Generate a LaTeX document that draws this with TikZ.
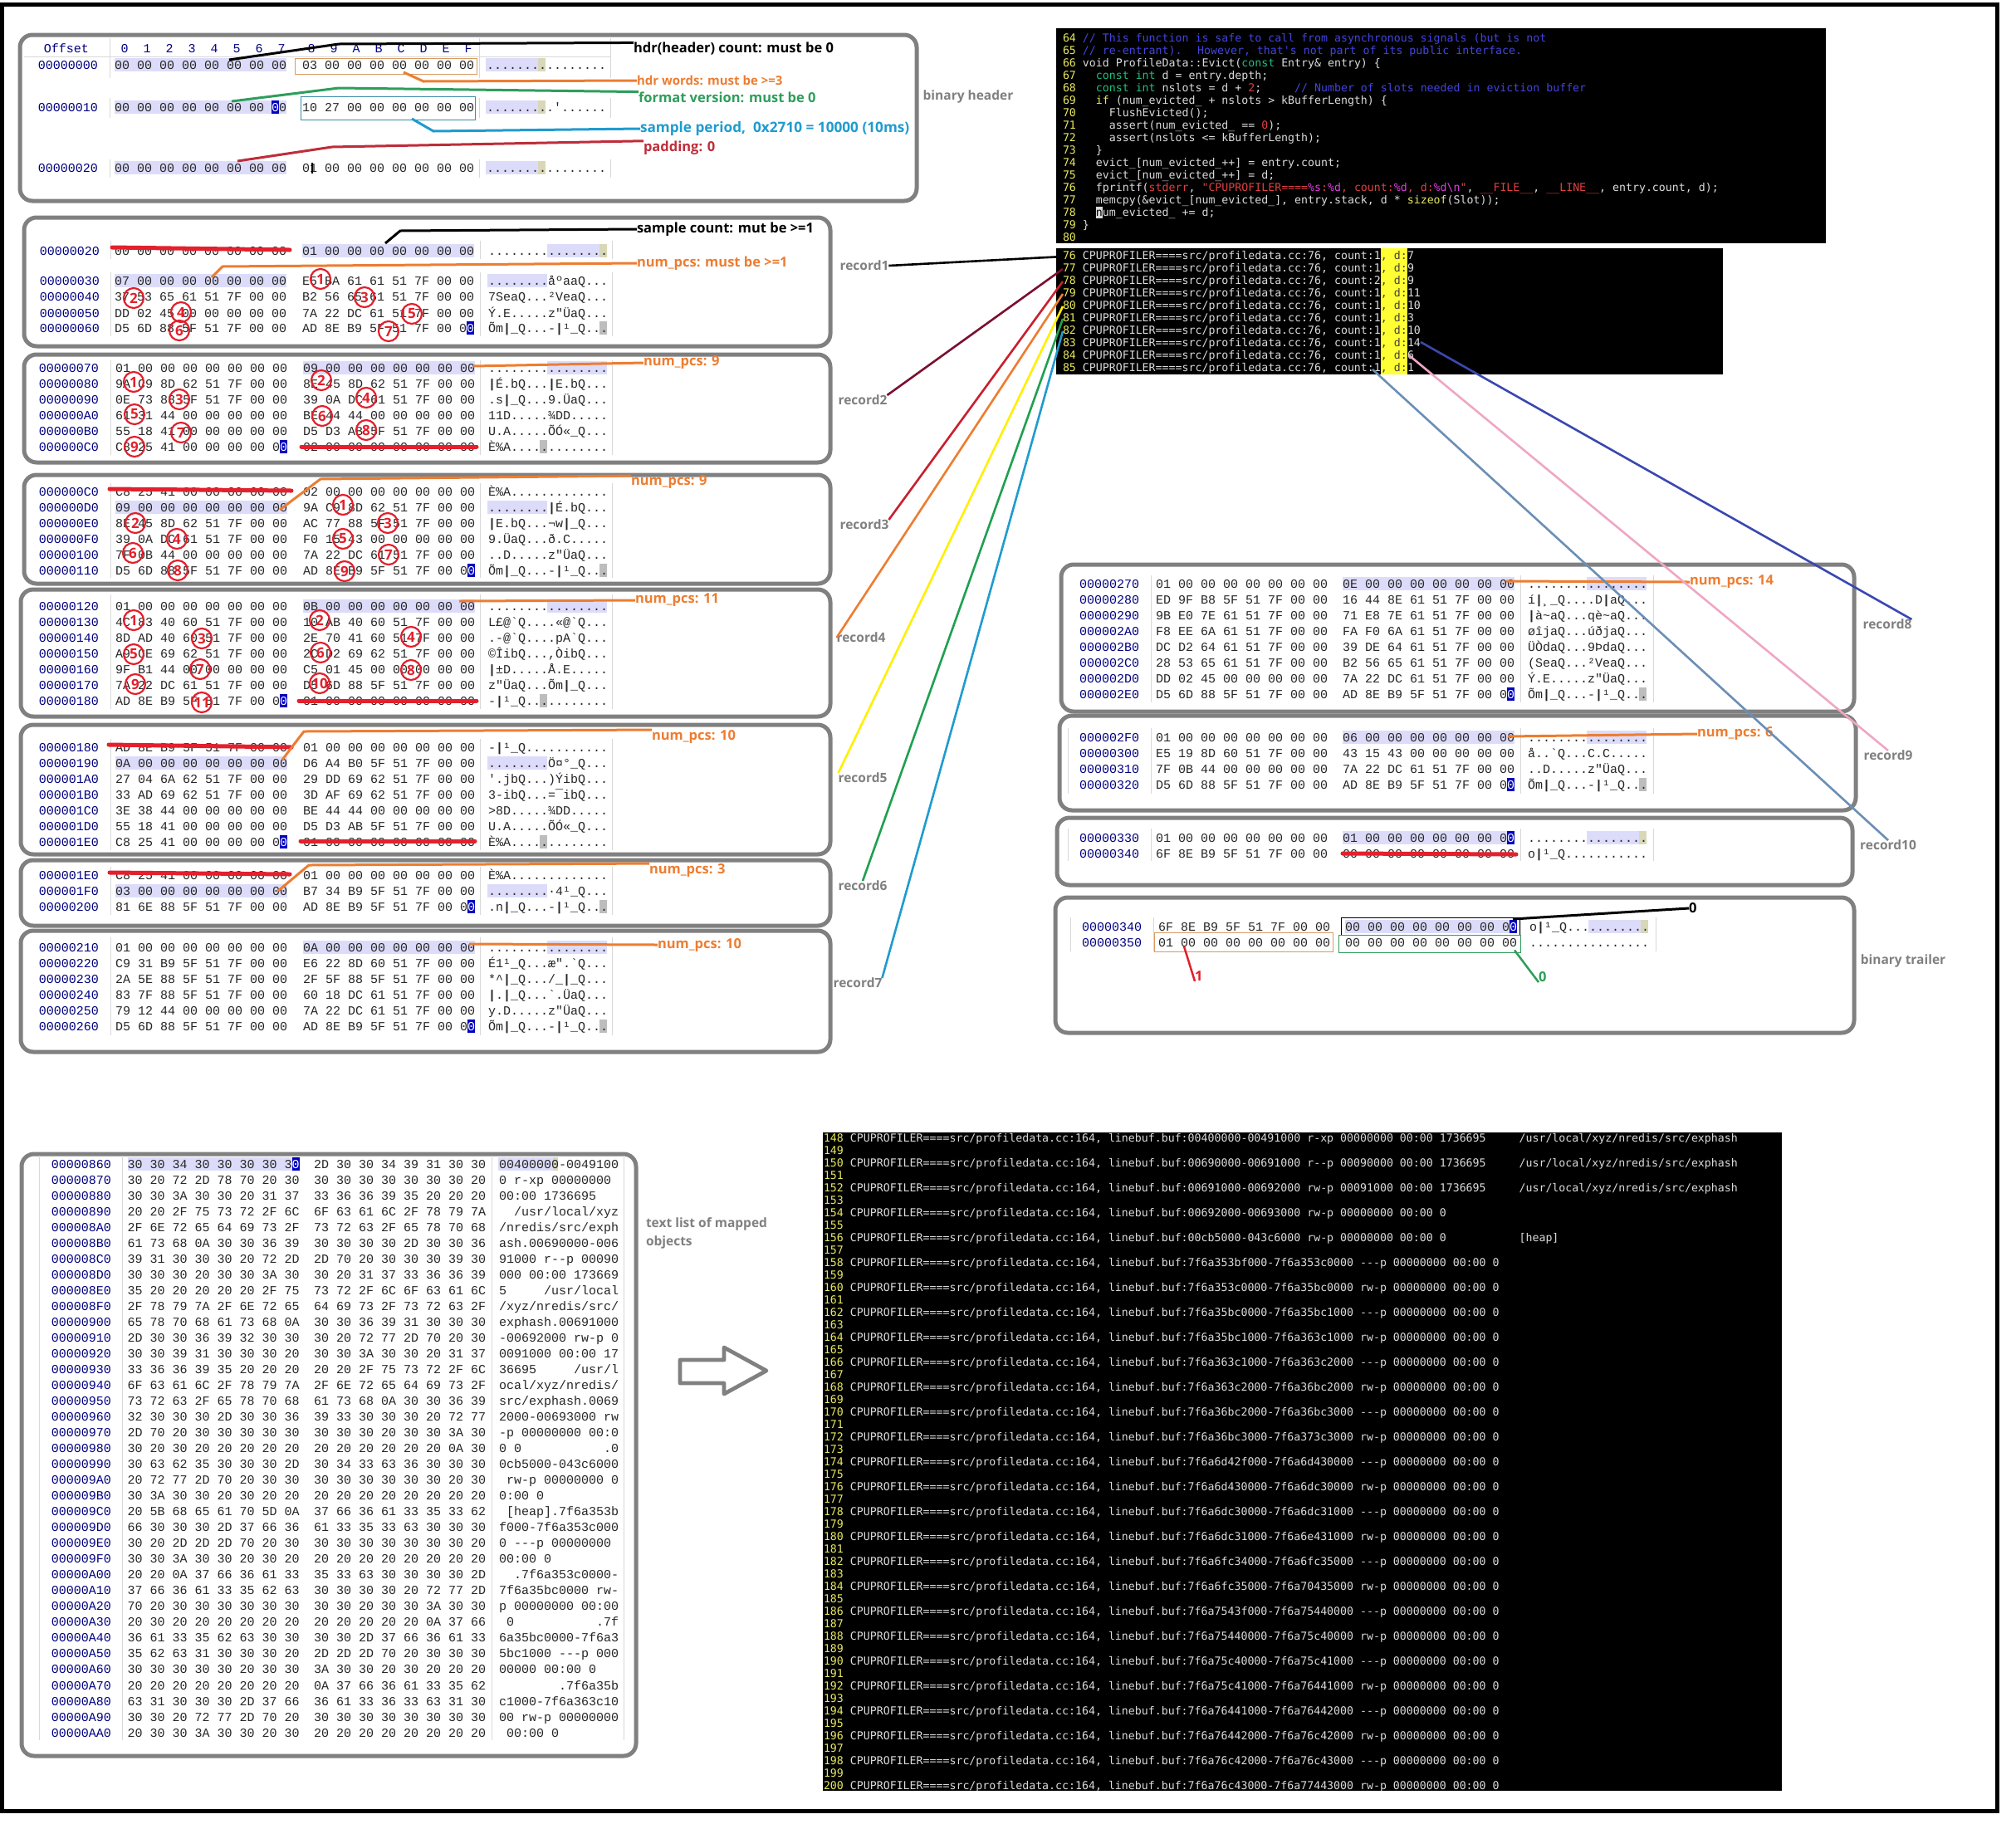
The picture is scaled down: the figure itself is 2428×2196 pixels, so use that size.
\documentclass[tikz,border=0pt]{standalone}
\usepackage{fontspec}
\newfontfamily\hexf{Liberation Mono}
\newfontfamily\codef{DejaVu Sans Mono}
\newfontfamily\labf{Open Sans}
\definecolor{pgray}{HTML}{808080}
\definecolor{lav}{HTML}{DCDCFA}
\definecolor{tanb}{HTML}{D8D8B8}
\definecolor{grayb}{HTML}{BDBDBD}
\definecolor{navyo}{HTML}{000080}
\definecolor{cursb}{HTML}{0000C0}
\definecolor{seplin}{HTML}{D8D8D8}
\definecolor{orng}{HTML}{ED7D31}
\definecolor{boxo}{HTML}{D89A60}
\definecolor{boxb}{HTML}{3A8CA8}
\definecolor{grn}{HTML}{2E9E5B}
\definecolor{skyb}{HTML}{1F9BCF}
\definecolor{redd}{HTML}{BE2D3A}
\definecolor{strike}{HTML}{E3202C}
\definecolor{cmt}{HTML}{4444DD}
\definecolor{typ}{HTML}{20C080}
\definecolor{strc}{HTML}{E04040}
\definecolor{fmtc}{HTML}{E040E0}
\definecolor{yel}{HTML}{E8E860}
\definecolor{wht}{HTML}{DCDCDC}
\definecolor{bar}{HTML}{FFFF33}
\definecolor{lr2}{HTML}{7A1030}
\definecolor{lr3}{HTML}{C8202F}
\definecolor{lr5}{HTML}{FFF000}
\definecolor{lr6}{HTML}{1FA050}
\definecolor{lr8}{HTML}{3A48B0}
\definecolor{lr9}{HTML}{EFA7C4}
\definecolor{lr10}{HTML}{6B8FB5}
\tikzset{
  x=1pt,y=-1pt,
  panelbox/.style={draw=pgray,line width=5pt,rounded corners=15pt,inner sep=0pt,outer sep=0pt},
  hexo/.style={anchor=base,inner sep=0pt,outer sep=0pt,text=navyo,font=\hexf\fontsize{15}{15}\selectfont},
  hexc/.style={anchor=base west,inner sep=0pt,outer sep=0pt,text=black!85,font=\hexf\fontsize{15}{15}\selectfont},
  curc/.style={anchor=base west,inner sep=0pt,outer sep=0pt,text=white,font=\hexf\fontsize{15}{15}\selectfont},
  codeln/.style={anchor=base west,inner sep=0pt,outer sep=0pt,text=wht,font=\codef\fontsize{13.25}{15}\selectfont},
  lbl/.style={anchor=west,inner sep=0pt,outer sep=0pt,font=\labf\bfseries\fontsize{16.5}{22}\selectfont},
  graylbl/.style={anchor=center,inner sep=0pt,outer sep=0pt,text=pgray,font=\labf\bfseries\fontsize{15.5}{22}\selectfont},
  ann/.style={line width=3pt,draw=#1},
  recline/.style={line width=2.6pt,draw=#1},
  strk/.style={line width=5pt,draw=strike,line cap=round},
  circnum/.style={circle,draw=strike,line width=2.2pt,minimum size=24pt,inner sep=0pt,text=strike,font=\labf\bfseries\fontsize{17}{17}\selectfont},
  sepl/.style={draw=seplin,line width=1pt},
}
\newcount\rc
\def\nextrc{\global\advance\rc by 1 }
\newcommand\setcols[4]{\def\xO{#1}\def\xA{#2}\def\xB{#3}\def\xC{#4}}
\newcommand\hr[5]{\nextrc
  \node[hexo] (r\the\rc o) at (\xO,{#1+5}) {#2};
  \node[hexc] (r\the\rc a) at (\xA,{#1+5}) {#3};
  \node[hexc] (r\the\rc b) at (\xB,{#1+5}) {#4};
  \node[hexc] (r\the\rc c) at (\xC,{#1+5}) {#5};}
\newcommand\hla[1]{\fill[lav] (\xA,{#1-8}) rectangle ({\xA+207},{#1+8});}
\newcommand\hlb[1]{\fill[lav] (\xB,{#1-8}) rectangle ({\xB+207},{#1+8});}
\newcommand\asca[1]{\fill[lav] ({\xC-1},{#1-8}) rectangle ({\xC+71},{#1+8});}
\newcommand\ascb[1]{\fill[lav] ({\xC+71},{#1-8}) rectangle ({\xC+143},{#1+8});}
\newcommand\marka[2]{\fill[#2] ({\xC+62},{#1-8}) rectangle ({\xC+71},{#1+8});}
\newcommand\markb[2]{\fill[#2] ({\xC+134},{#1-8}) rectangle ({\xC+143},{#1+8});}
\newcommand\cura[1]{\nextrc\fill[cursb] ({\xA+198},{#1-8}) rectangle ({\xA+207},{#1+8});
  \node[curc] (k\the\rc) at ({\xA+198},{#1+5}) {0};}
\newcommand\curb[1]{\nextrc\fill[cursb] ({\xB+198},{#1-8}) rectangle ({\xB+207},{#1+8});
  \node[curc] (k\the\rc) at ({\xB+198},{#1+5}) {0};}
\newcommand\panel[5]{\node[panelbox,minimum width={(#4-#2)*1pt},minimum height={(#5-#3)*1pt}] (#1) at ({(#2+#4)/2},{(#3+#5)/2}) {};}
\newcommand\cnum[3]{\nextrc\node[circnum] (n\the\rc) at (#1,#2) {#3};}
\newcommand\seps[5]{\draw[sepl] (#1,#4) -- (#1,#5) (#2,#4) -- (#2,#5) (#3,#4) -- (#3,#5);}
\def\bb{\textbf{|}}
\newcommand\cl[2]{\node[codeln] (c#1) at (1280,{45.7+15*(#1-64)+5}) {\textcolor{yel}{#1} #2};}
\newcommand\pl[2]{\node[codeln] (p#1) at (1280,{307.7+15*(#1-76)+5}) {\textcolor{yel}{#1} CPUPROFILER====src/profiledata.cc:76, count:#2\textcolor{black!75}{, d:}};}
\def\pf{CPUPROFILER====src/profiledata.cc:164, linebuf.buf:}
\newcommand\ml[2]{\node[codeln] (m#1) at (992,{1370.7+15*(#1-148)+5}) {\textcolor{yel}{#1} \pf #2};}
\begin{document}
\begin{tikzpicture}
\useasboundingbox (0,0) rectangle (2428,2196);
\fill[white] (0,0) rectangle (2428,2196);
\draw[line width=5pt,black] (2,5.5) rectangle (2405.5,2181.5);
% ---------- panels
\panel{hdrp}{24}{42}{1104}{242}
\panel{rp1}{29}{262}{1000}{417}
\panel{rp2}{29}{427}{1000}{557}
\panel{rp3}{29}{572}{1000}{703}
\panel{rp4}{25}{710}{1000}{863}
\panel{rp5}{25}{873}{1000}{1029}
\panel{rp6}{25}{1036}{1000}{1115}
\panel{rp7}{25}{1121}{1000}{1267}
\panel{rp8}{1278}{680}{2233}{857}
\panel{rp9}{1276}{862}{2235}{976}
\panel{rp10}{1273}{985}{2231}{1066}
\panel{trp}{1271}{1081}{2233}{1244}
\panel{mapp}{26}{1390}{766}{2115}
% ---------- binary header
\setcols{82}{138}{364}{586}
\seps{132}{577}{735}{46}{94}\seps{132}{577}{735}{118}{142}\seps{132}{577}{735}{192}{214}
\draw[sepl] (29,68) -- (735,68);
\node[hexo] (offh) at (80,63) {Offset};
\foreach \d [count=\i from 0] in {0,1,2,3,4,5,6,7}{\node[hexo] (hd\i) at ({150+27*\i},63) {\d};}
\foreach \d [count=\i from 0] in {8,9,A,B,C,D,E,F}{\node[hexo] (he\i) at ({375+27*\i},63) {\d};}
\hla{78}\asca{78}\marka{78}{tanb}
\hla{129}\asca{129}\marka{129}{tanb}
\hla{202}\asca{202}\marka{202}{tanb}
\hr{78}{00000000}{00 00 00 00 00 00 00 00}{03 00 00 00 00 00 00 00}{................}
\hr{129}{00000010}{00 00 00 00 00 00 00 00}{10 27 00 00 00 00 00 00}{.........'......}
\hr{202}{00000020}{00 00 00 00 00 00 00 00}{01 00 00 00 00 00 00 00}{................}
\fill[cursb] ({\xA+189},121) rectangle ({\xA+198},137);
\node[curc] (k0) at ({\xA+189},134) {0};
\fill[black] (375,196) rectangle (377,209);
\draw[boxo,line width=1pt] (355,70) rectangle (574,89);
\draw[boxb,line width=1pt] (362,116) rectangle (572,144);
% ---------- record 1
\setcols{84}{138}{364}{588}
\seps{133}{578}{737}{290}{312}\seps{133}{578}{737}{328}{405}
\hlb{302}\ascb{302}\markb{302}{tanb}
\hla{338}\asca{338}\markb{395}{grayb}
\hr{302}{00000020}{00 00 00 00 00 00 00 00}{01 00 00 00 00 00 00 00}{................}
\hr{338}{00000030}{07 00 00 00 00 00 00 00}{E5 BA 61 61 51 7F 00 00}{........åºaaQ...}
\hr{357}{00000040}{37 53 65 61 51 7F 00 00}{B2 56 65 61 51 7F 00 00}{7SeaQ...²VeaQ...}
\hr{377}{00000050}{DD 02 45 00 00 00 00 00}{7A 22 DC 61 51 7F 00 00}{Ý.E.....z"ÜaQ...}
\hr{395}{00000060}{D5 6D 88 5F 51 7F 00 00}{AD 8E B9 5F 51 7F 00 00}{Õm\bb\_Q...-\bb¹\_Q...}
\curb{395}
\draw[strk] (135,298) -- (349,301);
% ---------- record 2
\setcols{83}{139}{365}{588}
\seps{133}{578}{737}{434}{548}
\hlb{443}\ascb{443}\marka{538}{grayb}
\hr{443}{00000070}{01 00 00 00 00 00 00 00}{09 00 00 00 00 00 00 00}{................}
\hr{462}{00000080}{9A C9 8D 62 51 7F 00 00}{8E 45 8D 62 51 7F 00 00}{\bb É.bQ...\bb E.bQ...}
\hr{481}{00000090}{0E 73 88 5F 51 7F 00 00}{39 0A DC 61 51 7F 00 00}{.s\bb\_Q...9.ÜaQ...}
\hr{500}{000000A0}{61 31 44 00 00 00 00 00}{BE 44 44 00 00 00 00 00}{11D.....¾DD.....}
\hr{519}{000000B0}{55 18 41 00 00 00 00 00}{D5 D3 AB 5F 51 7F 00 00}{U.A.....ÕÓ«\_Q...}
\hr{538}{000000C0}{C8 25 41 00 00 00 00 00}{02 00 00 00 00 00 00 00}{È\%A.............}
\cura{538}
\draw[strk] (363,538) -- (574,538);
% ---------- record 3
\seps{133}{578}{737}{582}{696}
\hla{611}\asca{611}\markb{687}{grayb}
\hr{592}{000000C0}{C8 25 41 00 00 00 00 00}{02 00 00 00 00 00 00 00}{È\%A.............}
\hr{611}{000000D0}{09 00 00 00 00 00 00 00}{9A C9 8D 62 51 7F 00 00}{........\bb É.bQ...}
\hr{630}{000000E0}{8E 45 8D 62 51 7F 00 00}{AC 77 88 5F 51 7F 00 00}{\bb E.bQ...¬w\bb\_Q...}
\hr{649}{000000F0}{39 0A DC 61 51 7F 00 00}{F0 15 43 00 00 00 00 00}{9.ÜaQ...ð.C.....}
\hr{668}{00000100}{7F 0B 44 00 00 00 00 00}{7A 22 DC 61 51 7F 00 00}{..D.....z"ÜaQ...}
\hr{687}{00000110}{D5 6D 88 5F 51 7F 00 00}{AD 8E B9 5F 51 7F 00 00}{Õm\bb\_Q...-\bb¹\_Q...}
\curb{687}
\draw[strk] (132,589) -- (351,591);
% ---------- record 4
\seps{133}{578}{737}{716}{854}
\hlb{730}\ascb{730}\marka{844}{grayb}
\hr{730}{00000120}{01 00 00 00 00 00 00 00}{0B 00 00 00 00 00 00 00}{................}
\hr{749}{00000130}{4C 83 40 60 51 7F 00 00}{10 AB 40 60 51 7F 00 00}{L£@`Q....«@`Q...}
\hr{768}{00000140}{8D AD 40 60 51 7F 00 00}{2E 70 41 60 51 7F 00 00}{.-@`Q....pA`Q...}
\hr{787}{00000150}{A9 CE 69 62 51 7F 00 00}{2C D2 69 62 51 7F 00 00}{©ÎibQ...,ÒibQ...}
\hr{806}{00000160}{9F B1 44 00 00 00 00 00}{C5 01 45 00 00 00 00 00}{\bb ±D.....Å.E.....}
\hr{825}{00000170}{7A 22 DC 61 51 7F 00 00}{D5 6D 88 5F 51 7F 00 00}{z"ÜaQ...Õm\bb\_Q...}
\hr{844}{00000180}{AD 8E B9 5F 51 7F 00 00}{01 00 00 00 00 00 00 00}{-\bb¹\_Q...........}
\cura{844}
\draw[strk] (360,844) -- (574,844);
% ---------- record 5
\seps{133}{578}{737}{890}{1024}
\hla{919}\asca{919}\marka{1014}{grayb}
\hr{900}{00000180}{AD 8E B9 5F 51 7F 00 00}{01 00 00 00 00 00 00 00}{-\bb¹\_Q...........}
\hr{919}{00000190}{0A 00 00 00 00 00 00 00}{D6 A4 B0 5F 51 7F 00 00}{........Ö¤°\_Q...}
\hr{938}{000001A0}{27 04 6A 62 51 7F 00 00}{29 DD 69 62 51 7F 00 00}{'.jbQ...)ÝibQ...}
\hr{957}{000001B0}{33 AD 69 62 51 7F 00 00}{3D AF 69 62 51 7F 00 00}{3-ibQ...=¯ibQ...}
\hr{976}{000001C0}{3E 38 44 00 00 00 00 00}{BE 44 44 00 00 00 00 00}{>8D.....¾DD.....}
\hr{995}{000001D0}{55 18 41 00 00 00 00 00}{D5 D3 AB 5F 51 7F 00 00}{U.A.....ÕÓ«\_Q...}
\hr{1014}{000001E0}{C8 25 41 00 00 00 00 00}{01 00 00 00 00 00 00 00}{È\%A.............}
\cura{1014}
\draw[strk] (131,897) -- (351,900);
\draw[strk] (362,1013) -- (572,1013);
% ---------- record 6
\seps{133}{578}{737}{1044}{1102}
\hla{1073}\asca{1073}\markb{1092}{grayb}
\hr{1054}{000001E0}{C8 25 41 00 00 00 00 00}{01 00 00 00 00 00 00 00}{È\%A.............}
\hr{1073}{000001F0}{03 00 00 00 00 00 00 00}{B7 34 B9 5F 51 7F 00 00}{........·4¹\_Q...}
\hr{1092}{00000200}{81 6E 88 5F 51 7F 00 00}{AD 8E B9 5F 51 7F 00 00}{.n\bb\_Q...-\bb¹\_Q...}
\curb{1092}
\draw[strk] (132,1051) -- (349,1053);
% ---------- record 7
\seps{133}{578}{737}{1129}{1247}
\hlb{1141}\ascb{1141}\markb{1236}{grayb}
\hr{1141}{00000210}{01 00 00 00 00 00 00 00}{0A 00 00 00 00 00 00 00}{................}
\hr{1160}{00000220}{C9 31 B9 5F 51 7F 00 00}{E6 22 8D 60 51 7F 00 00}{É1¹\_Q...æ".`Q...}
\hr{1179}{00000230}{2A 5E 88 5F 51 7F 00 00}{2F 5F 88 5F 51 7F 00 00}{*\textasciicircum\bb\_Q.../\_\bb\_Q...}
\hr{1198}{00000240}{83 7F 88 5F 51 7F 00 00}{60 18 DC 61 51 7F 00 00}{\bb.\bb\_Q...`.ÜaQ...}
\hr{1217}{00000250}{79 12 44 00 00 00 00 00}{7A 22 DC 61 51 7F 00 00}{y.D.....z"ÜaQ...}
\hr{1236}{00000260}{D5 6D 88 5F 51 7F 00 00}{AD 8E B9 5F 51 7F 00 00}{Õm\bb\_Q...-\bb¹\_Q...}
\curb{1236}
% ---------- record 8
\setcols{1336}{1392}{1617}{1840}
\seps{1386}{1831}{1991}{693}{846}
\hlb{703}\ascb{703}\markb{836}{grayb}
\hr{703}{00000270}{01 00 00 00 00 00 00 00}{0E 00 00 00 00 00 00 00}{................}
\hr{722}{00000280}{ED 9F B8 5F 51 7F 00 00}{16 44 8E 61 51 7F 00 00}{í\bb¸\_Q....D\bb aQ...}
\hr{741}{00000290}{9B E0 7E 61 51 7F 00 00}{71 E8 7E 61 51 7F 00 00}{\bb à\textasciitilde aQ...qè\textasciitilde aQ...}
\hr{760}{000002A0}{F8 EE 6A 61 51 7F 00 00}{FA F0 6A 61 51 7F 00 00}{øîjaQ...úðjaQ...}
\hr{779}{000002B0}{DC D2 64 61 51 7F 00 00}{39 DE 64 61 51 7F 00 00}{ÜÒdaQ...9ÞdaQ...}
\hr{798}{000002C0}{28 53 65 61 51 7F 00 00}{B2 56 65 61 51 7F 00 00}{(SeaQ...²VeaQ...}
\hr{817}{000002D0}{DD 02 45 00 00 00 00 00}{7A 22 DC 61 51 7F 00 00}{Ý.E.....z"ÜaQ...}
\hr{836}{000002E0}{D5 6D 88 5F 51 7F 00 00}{AD 8E B9 5F 51 7F 00 00}{Õm\bb\_Q...-\bb¹\_Q...}
\curb{836}
% ---------- record 9
\seps{1386}{1831}{1991}{877}{956}
\draw[sepl] (1286,877) -- (1286,956);
\hlb{888}\ascb{888}\markb{945}{grayb}
\hr{888}{000002F0}{01 00 00 00 00 00 00 00}{06 00 00 00 00 00 00 00}{................}
\hr{907}{00000300}{E5 19 8D 60 51 7F 00 00}{43 15 43 00 00 00 00 00}{å..`Q...C.C.....}
\hr{926}{00000310}{7F 0B 44 00 00 00 00 00}{7A 22 DC 61 51 7F 00 00}{..D.....z"ÜaQ...}
\hr{945}{00000320}{D5 6D 88 5F 51 7F 00 00}{AD 8E B9 5F 51 7F 00 00}{Õm\bb\_Q...-\bb¹\_Q...}
\curb{945}
% ---------- record 10
\seps{1386}{1831}{1991}{998}{1037}
\draw[sepl] (1286,998) -- (1286,1037);
\hlb{1009}\ascb{1009}\markb{1009}{tanb}
\hr{1009}{00000330}{01 00 00 00 00 00 00 00}{01 00 00 00 00 00 00 00}{................}
\hr{1028}{00000340}{6F 8E B9 5F 51 7F 00 00}{00 00 00 00 00 00 00 00}{o\bb¹\_Q...........}
\curb{1009}
\draw[strk] (1617,1028) -- (1826,1029);
% ---------- trailer
\setcols{1339}{1395}{1620}{1842}
\seps{1389}{1831}{1994}{1105}{1146}
\draw[sepl] (1289,1105) -- (1289,1146);
\hlb{1116}\ascb{1116}\markb{1116}{tanb}
\hr{1116}{00000340}{6F 8E B9 5F 51 7F 00 00}{00 00 00 00 00 00 00 00}{o\bb¹\_Q...........}
\hr{1135}{00000350}{01 00 00 00 00 00 00 00}{00 00 00 00 00 00 00 00}{................}
\curb{1116}
\draw[black,line width=1pt] (1615,1105) rectangle (1830,1126);
\draw[boxo,line width=1pt] (1390,1123.5) rectangle (1605,1146);
\draw[grn,line width=1pt] (1612,1126) rectangle (1831,1147);
% ---------- mapped objects
\setcols{98}{153.5}{378}{601}
\seps{147.5}{592}{751}{1392}{2096}
\draw[sepl] (47,1392) -- (47,2096);
\hla{1402}
\fill[lav] (600,1394) rectangle (666,1410);
\fill[tanb] (666,1394) rectangle (672,1410);
\foreach \yy/\oo/\aa/\bbb/\cc [count=\k from 0] in {
0/00000860/30 30 34 30 30 30 30 30/2D 30 30 34 39 31 30 30/{00400000-0049100},
1/00000870/30 20 72 2D 78 70 20 30/30 30 30 30 30 30 30 20/{0 r-xp 00000000 },
2/00000880/30 30 3A 30 30 20 31 37/33 36 36 39 35 20 20 20/{00:00 1736695   },
3/00000890/20 20 2F 75 73 72 2F 6C/6F 63 61 6C 2F 78 79 7A/{~~/usr/local/xyz},
4/000008A0/2F 6E 72 65 64 69 73 2F/73 72 63 2F 65 78 70 68/{/nredis/src/exph},
5/000008B0/61 73 68 0A 30 30 36 39/30 30 30 30 2D 30 30 36/{ash.00690000-006},
6/000008C0/39 31 30 30 30 20 72 2D/2D 70 20 30 30 30 39 30/{91000 r-{}-p 00090},
7/000008D0/30 30 30 20 30 30 3A 30/30 20 31 37 33 36 36 39/{000 00:00 173669},
8/000008E0/35 20 20 20 20 20 2F 75/73 72 2F 6C 6F 63 61 6C/{5~~~~~/usr/local},
9/000008F0/2F 78 79 7A 2F 6E 72 65/64 69 73 2F 73 72 63 2F/{/xyz/nredis/src/},
10/00000900/65 78 70 68 61 73 68 0A/30 30 36 39 31 30 30 30/{exphash.00691000},
11/00000910/2D 30 30 36 39 32 30 30/30 20 72 77 2D 70 20 30/{-00692000 rw-p 0},
12/00000920/30 30 39 31 30 30 30 20/30 30 3A 30 30 20 31 37/{0091000 00:00 17},
13/00000930/33 36 36 39 35 20 20 20/20 20 2F 75 73 72 2F 6C/{36695~~~~~/usr/l},
14/00000940/6F 63 61 6C 2F 78 79 7A/2F 6E 72 65 64 69 73 2F/{ocal/xyz/nredis/},
15/00000950/73 72 63 2F 65 78 70 68/61 73 68 0A 30 30 36 39/{src/exphash.0069},
16/00000960/32 30 30 30 2D 30 30 36/39 33 30 30 30 20 72 77/{2000-00693000 rw},
17/00000970/2D 70 20 30 30 30 30 30/30 30 30 20 30 30 3A 30/{-p 00000000 00:0},
18/00000980/30 20 30 20 20 20 20 20/20 20 20 20 20 20 0A 30/{0 0~~~~~~~~~~~.0},
19/00000990/30 63 62 35 30 30 30 2D/30 34 33 63 36 30 30 30/{0cb5000-043c6000},
20/000009A0/20 72 77 2D 70 20 30 30/30 30 30 30 30 30 20 30/{~rw-p 00000000 0},
21/000009B0/30 3A 30 30 20 30 20 20/20 20 20 20 20 20 20 20/{0:00 0},
22/000009C0/20 5B 68 65 61 70 5D 0A/37 66 36 61 33 35 33 62/{~[heap].7f6a353b},
23/000009D0/66 30 30 30 2D 37 66 36/61 33 35 33 63 30 30 30/{f000-7f6a353c000},
24/000009E0/30 20 2D 2D 2D 70 20 30/30 30 30 30 30 30 30 20/{0 -{}-{}-p 00000000 },
25/000009F0/30 30 3A 30 30 20 30 20/20 20 20 20 20 20 20 20/{00:00 0},
26/00000A00/20 20 0A 37 66 36 61 33/35 33 63 30 30 30 30 2D/{~~.7f6a353c0000-},
27/00000A10/37 66 36 61 33 35 62 63/30 30 30 30 20 72 77 2D/{7f6a35bc0000 rw-},
28/00000A20/70 20 30 30 30 30 30 30/30 30 20 30 30 3A 30 30/{p 00000000 00:00},
29/00000A30/20 30 20 20 20 20 20 20/20 20 20 20 20 0A 37 66/{~0~~~~~~~~~~~.7f},
30/00000A40/36 61 33 35 62 63 30 30/30 30 2D 37 66 36 61 33/{6a35bc0000-7f6a3},
31/00000A50/35 62 63 31 30 30 30 20/2D 2D 2D 70 20 30 30 30/{5bc1000 -{}-{}-p 000},
32/00000A60/30 30 30 30 30 20 30 30/3A 30 30 20 30 20 20 20/{00000 00:00 0},
33/00000A70/20 20 20 20 20 20 20 20/0A 37 66 36 61 33 35 62/{~~~~~~~~.7f6a35b},
34/00000A80/63 31 30 30 30 2D 37 66/36 61 33 36 33 63 31 30/{c1000-7f6a363c10},
35/00000A90/30 30 20 72 77 2D 70 20/30 30 30 30 30 30 30 30/{00 rw-p 00000000},
36/00000AA0/20 30 30 3A 30 30 20 30/20 20 20 20 20 20 20 20/{~00:00 0}}
{
  \hr{1402+19.03*\yy}{\oo}{\aa}{\bbb}{\cc}
}
\cura{1402}
% ---------- code box
\fill[black] (1272,34) rectangle (2199,293);
\fill[black] (1272,299) rectangle (2075,451);
\fill[bar] (1663,299) rectangle (1695,451);
\fill[black!15!white] (1320,249) rectangle (1328,263);
\cl{64}{\textcolor{cmt}{// This function is safe to call from asynchronous signals (but is not}}
\cl{65}{\textcolor{cmt}{// re-entrant).~ However, that's not part of its public interface.}}
\cl{66}{void ProfileData::Evict(\textcolor{typ}{const} Entry\& entry) \{}
\cl{67}{~~\textcolor{typ}{const int} d = entry.depth;}
\cl{68}{~~\textcolor{typ}{const int} nslots = d + \textcolor{strc}{2};~~~~~\textcolor{cmt}{// Number of slots needed in eviction buffer}}
\cl{69}{~~\textcolor{yel}{if} (num\_evicted\_ + nslots > kBufferLength) \{}
\cl{70}{~~~~FlushEvicted();}
\cl{71}{~~~~assert(num\_evicted\_ == \textcolor{strc}{0});}
\cl{72}{~~~~assert(nslots <= kBufferLength);}
\cl{73}{~~\}}
\cl{74}{~~evict\_[num\_evicted\_++] = entry.count;}
\cl{75}{~~evict\_[num\_evicted\_++] = d;}
\cl{76}{~~fprintf(\textcolor{strc}{stderr}, \textcolor{strc}{"CPUPROFILER====}\textcolor{fmtc}{\%s}\textcolor{strc}{:}\textcolor{fmtc}{\%d}\textcolor{strc}{, count:}\textcolor{fmtc}{\%d}\textcolor{strc}{, d:}\textcolor{fmtc}{\%d\textbackslash n}\textcolor{strc}{"}, \textcolor{strc}{\_\_FILE\_\_}, \textcolor{strc}{\_\_LINE\_\_}, entry.count, d);}
\cl{77}{~~memcpy(\&evict\_[num\_evicted\_], entry.stack, d * \textcolor{yel}{sizeof}(Slot));}
\cl{78}{~~\textcolor{black}{n}um\_evicted\_ += d;}
\cl{79}{\}}
\cl{80}{}
% ---------- output box
\pl{76}{1}\pl{77}{1}\pl{78}{2}\pl{79}{1}\pl{80}{1}\pl{81}{1}\pl{82}{1}\pl{83}{1}\pl{84}{1}\pl{85}{1}
\foreach \n/\v in {76/7,77/9,78/9,79/11,80/10,81/3,82/10,83/14,84/6,85/1}{
  \node[codeln] (dv\n) at (1695,{307.7+15*(\n-76)+5}) {\v};}
\coordinate (d83) at (1711,412);
\coordinate (d84) at (1697,428);
\coordinate (d85) at (1653,445);
% ---------- map list box
\fill[black] (991,1364) rectangle (2146,2157);
\ml{148}{00400000-00491000 r-xp 00000000 00:00 1736695~~~~~/usr/local/xyz/nredis/src/exphash}
\ml{150}{00690000-00691000 r-{}-p 00090000 00:00 1736695~~~~~/usr/local/xyz/nredis/src/exphash}
\ml{152}{00691000-00692000 rw-p 00091000 00:00 1736695~~~~~/usr/local/xyz/nredis/src/exphash}
\ml{154}{00692000-00693000 rw-p 00000000 00:00 0}
\ml{156}{00cb5000-043c6000 rw-p 00000000 00:00 0~~~~~~~~~~~[heap]}
\ml{158}{7f6a353bf000-7f6a353c0000 -{}-{}-p 00000000 00:00 0}
\ml{160}{7f6a353c0000-7f6a35bc0000 rw-p 00000000 00:00 0}
\ml{162}{7f6a35bc0000-7f6a35bc1000 -{}-{}-p 00000000 00:00 0}
\ml{164}{7f6a35bc1000-7f6a363c1000 rw-p 00000000 00:00 0}
\ml{166}{7f6a363c1000-7f6a363c2000 -{}-{}-p 00000000 00:00 0}
\ml{168}{7f6a363c2000-7f6a36bc2000 rw-p 00000000 00:00 0}
\ml{170}{7f6a36bc2000-7f6a36bc3000 -{}-{}-p 00000000 00:00 0}
\ml{172}{7f6a36bc3000-7f6a373c3000 rw-p 00000000 00:00 0}
\ml{174}{7f6a6d42f000-7f6a6d430000 -{}-{}-p 00000000 00:00 0}
\ml{176}{7f6a6d430000-7f6a6dc30000 rw-p 00000000 00:00 0}
\ml{178}{7f6a6dc30000-7f6a6dc31000 -{}-{}-p 00000000 00:00 0}
\ml{180}{7f6a6dc31000-7f6a6e431000 rw-p 00000000 00:00 0}
\ml{182}{7f6a6fc34000-7f6a6fc35000 -{}-{}-p 00000000 00:00 0}
\ml{184}{7f6a6fc35000-7f6a70435000 rw-p 00000000 00:00 0}
\ml{186}{7f6a7543f000-7f6a75440000 -{}-{}-p 00000000 00:00 0}
\ml{188}{7f6a75440000-7f6a75c40000 rw-p 00000000 00:00 0}
\ml{190}{7f6a75c40000-7f6a75c41000 -{}-{}-p 00000000 00:00 0}
\ml{192}{7f6a75c41000-7f6a76441000 rw-p 00000000 00:00 0}
\ml{194}{7f6a76441000-7f6a76442000 -{}-{}-p 00000000 00:00 0}
\ml{196}{7f6a76442000-7f6a76c42000 rw-p 00000000 00:00 0}
\ml{198}{7f6a76c42000-7f6a76c43000 -{}-{}-p 00000000 00:00 0}
\ml{200}{7f6a76c43000-7f6a77443000 rw-p 00000000 00:00 0}
\foreach \n in {149,151,...,199}{\node[codeln,text=yel] (mm\n) at (992,{1370.7+15*(\n-148)+5}) {\n};}
% ---------- circled numbers
\cnum{386}{336}{1}\cnum{161}{359}{2}\cnum{439}{358}{3}\cnum{218}{376}{4}\cnum{496}{378}{5}\cnum{216}{398}{6}\cnum{468}{399}{7}
\cnum{161}{460}{1}\cnum{387}{458}{2}\cnum{216}{481}{3}\cnum{441}{479}{4}\cnum{162}{499}{5}\cnum{388}{501}{6}\cnum{218}{521}{7}\cnum{441}{518}{8}\cnum{162}{538}{9}
\cnum{413}{608}{1}\cnum{163}{630}{2}\cnum{467}{630}{3}\cnum{213}{649}{4}\cnum{413}{649}{5}\cnum{160}{666}{6}\cnum{468}{668}{7}\cnum{214}{687}{8}\cnum{415}{688}{9}
\cnum{161}{747}{1}\cnum{385}{747}{2}\cnum{243}{769}{3}\cnum{495}{767}{4}\cnum{161}{788}{5}\cnum{386}{786}{6}\cnum{241}{806}{7}\cnum{495}{807}{8}\cnum{163}{824}{9}\cnum{385}{823}{10}\cnum{243}{846}{11}
% ---------- annotation labels
\node[lbl,text=black] (a1) at (763,59) {hdr(header) count: must be 0};
\node[lbl,text=orng,font=\labf\bfseries\fontsize{15}{18}\selectfont] (a2) at (767,97) {hdr words: must be >=3};
\node[lbl,text=grn] (a3) at (769,117) {format version: must be 0};
\node[lbl,text=skyb,font=\labf\bfseries\fontsize{17.2}{20}\selectfont] (a4) at (771,155) {sample period,~ 0x2710 = 10000 (10ms)};
\node[lbl,text=redd] (a5) at (775,178) {padding: 0};
\node[lbl,text=black] (a6) at (767,276) {sample count: mut be >=1};
\node[lbl,text=orng] (a7) at (767,317) {num\_pcs: must be >=1};
\node[lbl,text=orng] (a8) at (775,437) {num\_pcs: 9};
\node[lbl,text=orng] (a9) at (760,581) {num\_pcs: 9};
\node[lbl,text=orng] (a10) at (765,723) {num\_pcs: 11};
\node[lbl,text=orng] (a11) at (785,887) {num\_pcs: 10};
\node[lbl,text=orng] (a12) at (782,1048) {num\_pcs: 3};
\node[lbl,text=orng] (a13) at (792,1138) {num\_pcs: 10};
\node[lbl,text=orng] (a14) at (2035,701) {num\_pcs: 14};
\node[lbl,text=orng] (a15) at (2044,884) {num\_pcs: 6};
\node[lbl,text=black] (t0) at (2034,1094) {0};
\node[lbl,text=strike] (t1) at (1439,1176) {1};
\node[lbl,text=grn] (t2) at (1853,1177) {0};
\node[graylbl] (binh) at (1166,116) {binary header};
\node[graylbl] (rec1) at (1041,320) {record1};
\node[graylbl] (rec2) at (1039,482) {record2};
\node[graylbl] (rec3) at (1041,632) {record3};
\node[graylbl] (rec4) at (1037,768) {record4};
\node[graylbl] (rec5) at (1039,937) {record5};
\node[graylbl] (rec6) at (1039,1067) {record6};
\node[graylbl] (rec7) at (1033,1184) {record7};
\node[graylbl] (rec8) at (2273,752) {record8};
\node[graylbl] (rec9) at (2274,910) {record9};
\node[graylbl] (rec10) at (2274,1018) {record10};
\node[graylbl] (bint) at (2292,1157) {binary trailer};
\node[graylbl,anchor=north west,align=left] (txtl) at (778,1467) {text list of mapped\\objects};
% ---------- annotation connectors
\coordinate (s1) at (276,72);\draw[ann=black] (s1) -- (408,53) -- (a1.north west);
\coordinate (s2) at (486,87);\draw[ann=orng] (s2) -- (510,98) -- (a2.west);
\coordinate (s3) at (279,122);\draw[ann=grn] (s3) -- (408,106) -- (a3.north west);
\coordinate (s4) at (496,143);\draw[ann=skyb] (s4) -- (522,158) -- (a4.west);
\coordinate (s5) at (286,194);\draw[ann=redd] (s5) -- (400,177) -- (a5.north west);
\coordinate (s6) at (464,293);\draw[ann=black] (s6) -- (482,278) -- (a6.west);
\coordinate (s7) at (255,334);\draw[ann=orng] (s7) -- (268,321) -- (a7.west);
\coordinate (s8) at (570,441);\draw[ann=orng] (s8) -- (a8.west);
\coordinate (s9) at (337,614);\draw[ann=orng] (s9) -- (386,577) -- (a9.north west);
\coordinate (s10) at (553,724);\draw[ann=orng] (s10) -- (a10.west);
\coordinate (s11) at (340,915);\draw[ann=orng] (s11) -- (366,881) -- (a11.north west);
\coordinate (s12) at (335,1073);\draw[ann=orng] (s12) -- (372,1042) -- (a12.north west);
\coordinate (s13) at (565,1137);\draw[ann=orng] (s13) -- (a13.west);
\coordinate (s14) at (1814,700);\draw[ann=orng] (s14) -- (a14.west);
\coordinate (s15) at (1816,887);\draw[ann=orng] (s15) -- (a15.west);
\coordinate (s16) at (1822,1107);\draw[ann=black] (s16) -- (t0.west);
\coordinate (s17) at (1426,1140);\draw[line width=2.5pt,draw=strike] (s17) -- (t1.south west);
\coordinate (s18) at (1824,1144.5);\draw[line width=2.5pt,draw=grn] (s18) -- (t2.south west);
% ---------- record connectors
\draw[recline=black] (rec1.east) -- (p76.west);
\draw[recline=lr2] (rec2.north east) -- (p77.west);
\draw[recline=lr3] (rec3.north east) -- (p78.west);
\draw[recline=orng] (rec4.west) -- (p79.west);
\draw[recline=lr5] (rec5.north west) -- (p80.west);
\draw[recline=lr6] (rec6.north) -- (p81.west);
\draw[recline=skyb] (rec7.north east) -- (p82.west);
\draw[recline=lr8] (rec8.north east) -- (d83);
\draw[recline=lr9] (rec9.north) -- (d84);
\draw[recline=lr10] (rec10.north) -- (d85);
% ---------- arrow
\coordinate (ar) at (819,1651);
\draw[pgray,line width=4.7pt,line join=round] (ar) ++(0,-13) -- ++(53,0) -- ++(0,-15) -- (923,1651) -- (872,1679) -- (872,1666) -- (819,1666) -- cycle;
\end{tikzpicture}
\end{document}
